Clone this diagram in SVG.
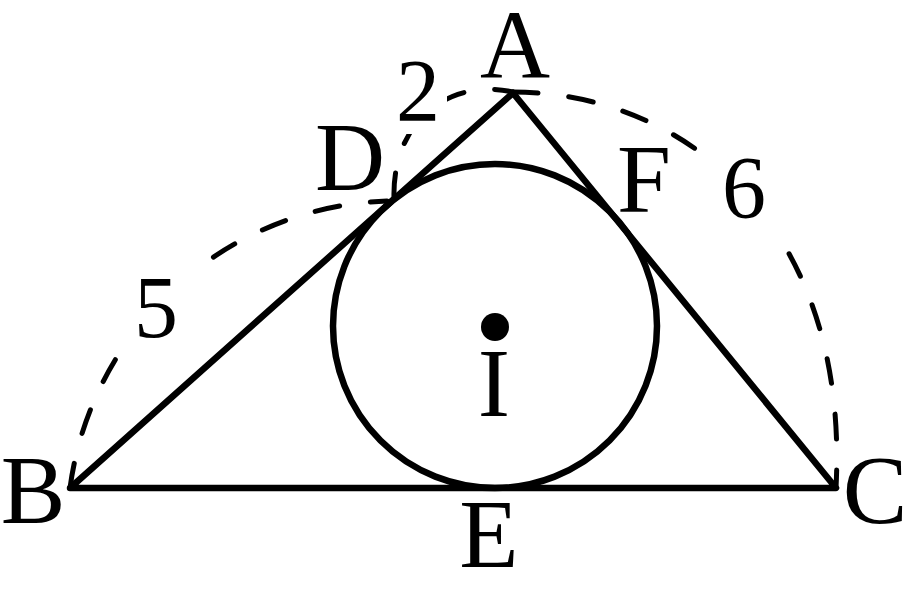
<svg xmlns="http://www.w3.org/2000/svg" width="906" height="595" viewBox="0 0 906 595">
<style>
.lbl{font-family:"Liberation Serif","DejaVu Serif",serif;font-size:97px;fill:#000;text-anchor:middle}
.num{font-family:"Liberation Serif","DejaVu Serif",serif;font-size:88px;fill:#000;text-anchor:middle}
.solid{fill:none;stroke:#000;stroke-width:6.5;stroke-linejoin:round;stroke-linecap:round}
.dash{fill:none;stroke:#000;stroke-width:5;stroke-dasharray:25 31;stroke-linecap:round}
</style>
<defs>
<mask id="lblgap" maskUnits="userSpaceOnUse" x="0" y="0" width="906" height="595">
<rect x="0" y="0" width="906" height="595" fill="#fff"/>
<rect x="128" y="272" width="64" height="76" fill="#000"/>
<rect x="399" y="58" width="48" height="76" fill="#000"/>
<rect x="710" y="148" width="70" height="86" fill="#000"/>
</mask>
</defs>
<rect width="906" height="595" fill="#fff"/>
<g id="connectors">
<g mask="url(#lblgap)">
<path id="arc-BD" class="dash" d="M70,488 A331,331 0 0 1 387,201"/>
<path id="arc-DA" class="dash" d="M394,198 C392,120 450,78 513,92"/>
<path id="arc-AC" class="dash" d="M513,92 C680,92 850,220 836,488"/>
</g>
<path id="triangle" class="solid" d="M70,488 L513,93 L836,488 Z"/>
</g>
<g id="incircle">
<circle class="solid" cx="495" cy="326" r="162"/>
<circle cx="495" cy="327" r="14" fill="#000"/>
</g>
<g id="node-A"><text class="lbl" x="515" y="77">A</text></g>
<g id="node-B"><text class="lbl" x="33" y="523">B</text></g>
<g id="node-C"><text class="lbl" x="875" y="523">C</text></g>
<g id="node-D"><text class="lbl" x="350" y="190">D</text></g>
<g id="node-E"><text class="lbl" x="489" y="567">E</text></g>
<g id="node-F"><text class="lbl" x="644" y="212">F</text></g>
<g id="node-I"><text class="lbl" x="494" y="416">I</text></g>
<g id="label-2"><text class="num" x="418" y="120">2</text></g>
<g id="label-5"><text class="num" x="156" y="337">5</text></g>
<g id="label-6"><text class="num" x="744" y="217">6</text></g>
</svg>
